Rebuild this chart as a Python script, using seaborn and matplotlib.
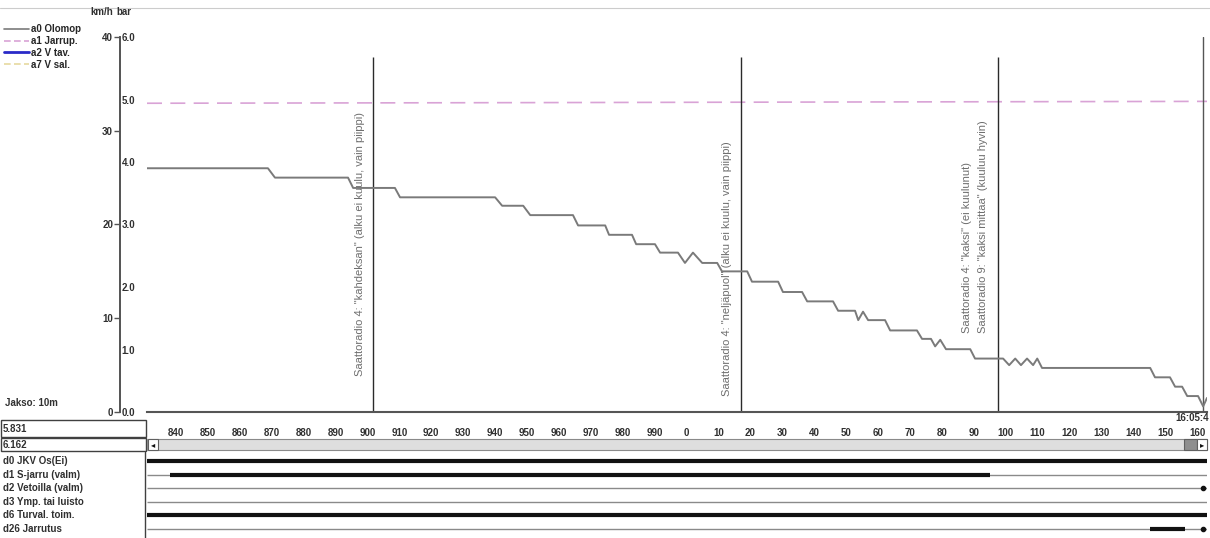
import matplotlib
matplotlib.use('Agg')
import matplotlib.pyplot as plt
import matplotlib.transforms as mtrans
from matplotlib.lines import Line2D
from matplotlib.patches import Rectangle
import seaborn as sns
import pandas as pd

# ---------------- data ----------------
speed_dist = [830.9, 868.8, 871.0, 893.9, 895.5, 908.6, 910.2, 940.0, 942.2, 948.8,
              951.0, 964.4, 966.0, 974.5, 975.7, 982.9, 984.2, 990.1, 991.7, 997.3,
              999.5, 1002.0, 1004.9, 1009.6, 1011.1, 1019.0, 1020.5, 1028.7, 1030.2, 1036.2,
              1037.8, 1045.9, 1047.5, 1052.8, 1053.8, 1055.3, 1056.9, 1062.2, 1063.8, 1072.2,
              1073.8, 1076.6, 1077.9, 1079.5, 1081.3, 1088.9, 1090.4, 1099.2, 1101.1, 1103.0,
              1104.8, 1106.7, 1108.6, 1109.9, 1111.4, 1145.3, 1146.8, 1151.5, 1153.1, 1155.3,
              1156.9, 1160.3, 1161.9, 1163.1]
speed_kmh = [26.0, 26.0, 25.0, 25.0, 23.9, 23.9, 22.9, 22.9, 22.0, 22.0,
             21.0, 21.0, 19.9, 19.9, 18.9, 18.9, 17.9, 17.9, 17.0, 17.0,
             15.9, 17.0, 15.9, 15.9, 15.0, 15.0, 13.9, 13.9, 12.8, 12.8,
             11.8, 11.8, 10.8, 10.8, 9.8, 10.7, 9.8, 9.8, 8.7, 8.7,
             7.8, 7.8, 7.0, 7.7, 6.7, 6.7, 5.7, 5.7, 5.0, 5.7,
             5.0, 5.7, 5.0, 5.7, 4.7, 4.7, 3.7, 3.7, 2.7, 2.7,
             1.7, 1.7, 0.6, 1.5]
pressure_dist = [830.9, 950.0, 1050.0, 1163.1]
pressure_bar = [4.94, 4.95, 4.96, 4.97]

event_dist = [901.8, 1017.0, 1097.6]
cursor_dist = 1162.0
event_texts = [
    ['Saattoradio 4: "kahdeksan" (alku ei kuulu, vain piippi)'],
    ['Saattoradio 4: "neljäpuol" (alku ei kuulu, vain piippi)'],
    ['Saattoradio 4: "kaksi" (ei kuulunut)',
     'Saattoradio 9: "kaksi mittaa" (kuuluu hyvin)'],
]

x_ticks = list(range(840, 1161, 10))
x_tick_labels = [str(t % 1000) for t in x_ticks]
kmh_ticks = [0, 10, 20, 30, 40]
bar_ticks = [0, 1, 2, 3, 4, 5, 6]

legend_labels = ['a0 Olomop', 'a1 Jarrup.', 'a2 V tav.', 'a7 V sal.']
channel_names = ['d0 JKV Os(Ei)', 'd1 S-jarru (valm)', 'd2 Vetoilla (valm)',
                 'd3 Ymp. tai luisto', 'd6 Turval. toim.', 'd26 Jarrutus']
channel_on = [[(830.9, 1163.1)], [(838.1, 1095.1)], [], [], [(830.9, 1163.1)],
              [(1145.3, 1156.3)]]
channel_dot = [None, None, 1162.0, None, None, 1162.0]
readouts = ['5.831', '6.162']
period_label = 'Jakso: 10m'
time_label = '16:05:4'

# ---------------- style ----------------
sns.set_theme(style='white')
plt.rcParams['font.family'] = ['Liberation Sans', 'DejaVu Sans']
TXT = '#303030'
BOLD = dict(fontsize=7, fontweight='bold', color=TXT)

W, H = 1210, 538
fig = plt.figure(figsize=(W / 100, H / 100), dpi=100)
fig.patch.set_facecolor('white')


def fx(px):
    return px / W


def fy(py):
    return 1 - py / H


# ---------------- main analog panel ----------------
ax = fig.add_axes([fx(147), fy(412), fx(1207) - fx(147), fy(37) - fy(412)])
ax.set_xlim(speed_dist[0], speed_dist[-1])
ax.set_ylim(0, 6)
ax_k = ax.twinx()
ax_k.set_ylim(0, 40)

press_df = pd.DataFrame({'dist': pressure_dist, 'bar': pressure_bar})
speed_df = pd.DataFrame({'dist': speed_dist, 'kmh': speed_kmh})

sns.lineplot(data=press_df, x='dist', y='bar', ax=ax, color='#d9a3d6', lw=1.2,
             linestyle=(0, (9, 5)), estimator=None, sort=False)
sns.lineplot(data=speed_df, x='dist', y='kmh', ax=ax_k, color='#7a7a7a', lw=1.4,
             estimator=None, sort=False)
ax_k.set_xlim(speed_dist[0], speed_dist[-1])
ax_k.axis('off')

# event lines + texts
ax.vlines(event_dist, 0, 5.68, color='#2a2a2a', lw=1.0)
ax.axvline(cursor_dist, color='#555555', lw=1.0)
text_offsets = [[-4.3], [-4.3], [-9.6, -4.6]]
text_base = [0.58, 0.26, 1.27]
for d, texts, offs, base in zip(event_dist, event_texts, text_offsets, text_base):
    for t, o in zip(texts, offs):
        ax.text(d + o, base, t, rotation=90, rotation_mode='anchor', ha='left',
                va='center', fontsize=8, color='#6e6e6e')

for s in ['top', 'right', 'left']:
    ax.spines[s].set_visible(False)
ax.spines['bottom'].set_color('#555555')
ax.spines['bottom'].set_linewidth(1.5)
ax.set_yticks([])
ax.set_xlabel('')
ax.set_ylabel('')
ax.set_xticks(x_ticks)
ax.set_xticklabels(x_tick_labels, **BOLD)
ax.tick_params(axis='x', direction='inout', length=5, width=1, color='#555555', pad=9)

loc = -27 / 1060
sec_k = ax.secondary_yaxis(loc, functions=(lambda b: b * 40 / 6, lambda k: k * 6 / 40))
sec_k.set_yticks(kmh_ticks)
sec_k.set_yticklabels([str(v) for v in kmh_ticks], **BOLD)
sec_k.tick_params(length=4, width=1, pad=1, color='#555555')
for s in sec_k.spines.values():
    s.set_color('#555555')

sec_b = ax.secondary_yaxis(loc)
sec_b.set_alignment('right')
sec_b.set_yticks(bar_ticks)
sec_b.set_yticklabels([f'{v:.1f}' for v in bar_ticks], **BOLD)
sec_b.tick_params(length=0, pad=1)
for s in sec_b.spines.values():
    s.set_color('#555555')

fig.text(fx(90), fy(12), 'km/h', va='center', **BOLD)
fig.text(fx(116), fy(12), 'bar', va='center', **BOLD)

handles = [Line2D([], [], color='#7a7a7a', lw=1.2),
           Line2D([], [], color='#d9a3d6', lw=1.2, linestyle=(0, (4, 2))),
           Line2D([], [], color='#2a2ac8', lw=2.0),
           Line2D([], [], color='#e6d9a0', lw=1.2, linestyle=(0, (4, 2)))]
fig.legend(handles, legend_labels, loc='upper left', bbox_to_anchor=(fx(4), fy(24)),
           frameon=False, prop={'size': 7, 'weight': 'bold'}, handlelength=2.6,
           handletextpad=0.2, labelspacing=0.2, borderpad=0, borderaxespad=0)

# top separator line
fig.add_artist(Line2D([0, 1], [fy(8), fy(8)], color='#cccccc', lw=0.8,
                      transform=fig.transFigure))

# ---------------- lower panel ----------------
fig.text(fx(5), fy(403), period_label, va='center', **BOLD)
fig.text(fx(1209), fy(418), time_label, ha='right', va='center', **BOLD)

box_rows = [(420, 437), (438, 451)]
for (y0, y1), val in zip(box_rows, readouts):
    fig.add_artist(Rectangle((fx(0.5), fy(y1)), fx(145), fy(y0) - fy(y1),
                             transform=fig.transFigure, fill=False, ec='#404040', lw=1))
    fig.text(fx(3), fy((y0 + y1) / 2), val, va='center', **BOLD)

# scrollbar
fig.add_artist(Rectangle((fx(147), fy(450)), fx(1060), fy(439) - fy(450),
                         transform=fig.transFigure, fc='#dedede', ec='#8a8a8a', lw=0.8))
fig.add_artist(Rectangle((fx(148), fy(450)), fx(10), fy(439) - fy(450),
                         transform=fig.transFigure, fc='white', ec='#606060', lw=0.8))
fig.text(fx(153), fy(444.5), '◂', ha='center', va='center', fontsize=6, color='#111111',
         family=['DejaVu Sans'])
fig.add_artist(Rectangle((fx(1184), fy(450)), fx(13), fy(439) - fy(450),
                         transform=fig.transFigure, fc='#8e8e8e', ec='#606060', lw=0.8))
fig.add_artist(Rectangle((fx(1197), fy(450)), fx(10), fy(439) - fy(450),
                         transform=fig.transFigure, fc='white', ec='#606060', lw=0.8))
fig.text(fx(1202), fy(444.5), '▸', ha='center', va='center', fontsize=6, color='#111111',
         family=['DejaVu Sans'])

# digital channels
ax_d = fig.add_axes([fx(147), 0, fx(1060), (H - 452) / H])
ax_d.set_xlim(speed_dist[0], speed_dist[-1])
ax_d.set_ylim(5.66, -0.66)
ax_d.axis('off')
trans = mtrans.blended_transform_factory(fig.transFigure, ax_d.transData)
for i, (name, segs, dot) in enumerate(zip(channel_names, channel_on, channel_dot)):
    ax_d.hlines(i, speed_dist[0], speed_dist[-1], color='#8a8a8a', lw=1.0)
    for s0, s1 in segs:
        ax_d.hlines(i, s0, s1, color='#111111', lw=3.0)
    if dot is not None:
        ax_d.plot([dot], [i], 'o', ms=3, color='#111111')
    ax_d.text(fx(3), i, name, transform=trans, va='center', **BOLD)

fig.add_artist(Line2D([fx(145), fx(145)], [fy(452), 0], color='#404040', lw=1,
                      transform=fig.transFigure))

fig.savefig('out.png', dpi=100)
